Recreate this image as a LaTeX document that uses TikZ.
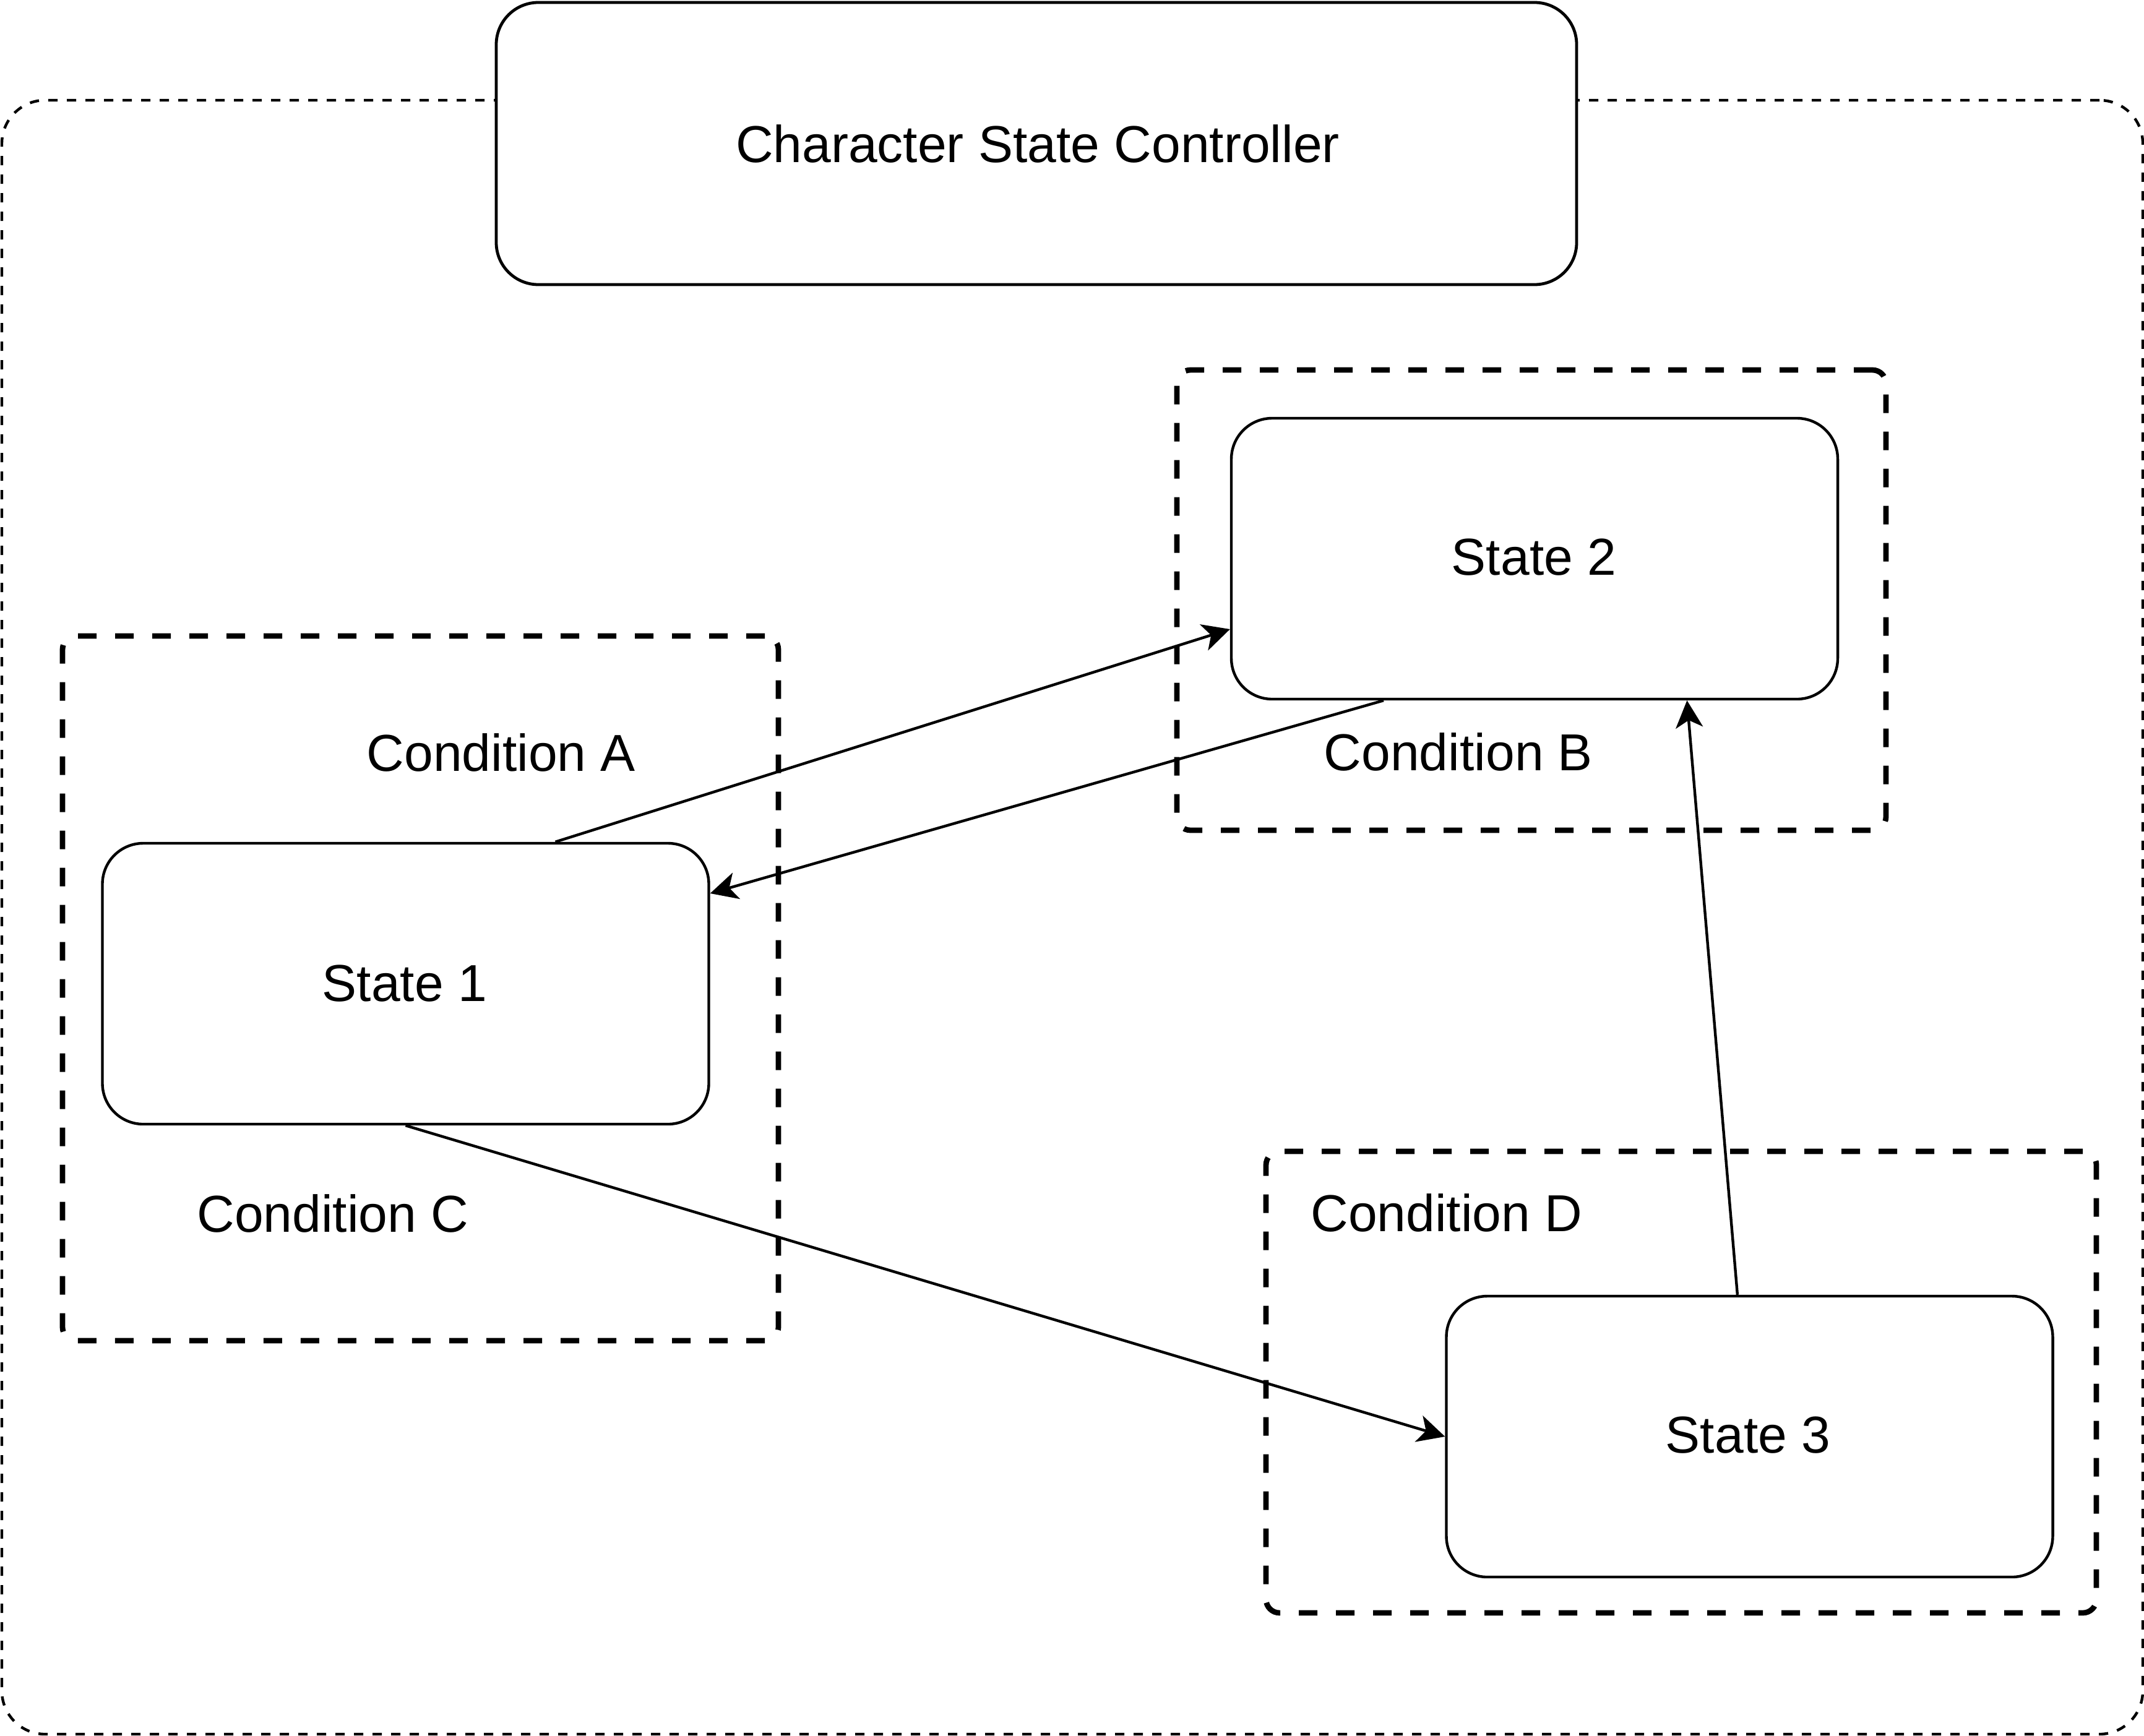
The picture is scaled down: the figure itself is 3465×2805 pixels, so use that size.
\documentclass[tikz,border=0pt]{standalone}
\usepackage{fontspec}
\setmainfont{Liberation Sans}
\usetikzlibrary{arrows.meta}
\begin{document}
\begin{tikzpicture}[x=0.25pt,y=-0.25pt,
  every node/.style={font=\fontsize{21}{25}\selectfont},
  outerbox/.style={draw, line width=1.1pt, dash pattern=on 3.75pt off 3.75pt, rounded corners=17.5pt, inner sep=0pt},
  ctrlbox/.style={draw, line width=1.2pt, rounded corners=17pt, fill=white, minimum width=436.5pt, minimum height=114pt, inner sep=0pt},
  condbox/.style={draw, line width=2.2pt, dash pattern=on 7.5pt off 7.5pt, rounded corners=5.5pt, inner sep=0pt},
  statebox/.style={draw, line width=1.1pt, rounded corners=16.5pt, fill=white, minimum width=245pt, minimum height=113.5pt, inner sep=0pt},
  condtext/.style={inner sep=0pt},
  flow/.style={line width=1.1pt, -{Stealth[length=11pt,width=11pt,inset=3pt]}}
]
\useasboundingbox (0,0) rectangle (3465,2805);
% outer container
\node[outerbox, minimum width=865pt, minimum height=660.25pt] (outer) at (1733,1482.5) {};
% controller
\node[ctrlbox] (ctrl) at (1675,232) {};
\node[condtext] (ctrltext) at (1677,232) {Character State Controller};
% condition boxes
\node[condbox, minimum width=289.25pt, minimum height=284.75pt] (cac) at (679.5,1597.5) {};
\node[condbox, minimum width=286.5pt, minimum height=186pt] (cb) at (2475,970) {};
\node[condbox, minimum width=335.5pt, minimum height=186.5pt] (cd) at (2717,2234) {};
% states
\node[statebox] (s1) at (655.5,1590) {};
\node[statebox] (s2) at (2480,903) {};
\node[statebox] (s3) at (2827.5,2322) {};
\node[condtext] (s1t) at (654,1590) {State 1};
\node[condtext] (s2t) at (2479,901) {State 2};
\node[condtext] (s3t) at (2825,2320) {State 3};
% condition labels
\node[condtext] (la) at (810,1216) {Condition A};
\node[condtext] (lb) at (2357,1215) {Condition B};
\node[condtext] (lc) at (538,1961) {Condition C};
\node[condtext] (ld) at (2338,1960) {Condition D};
% transitions
\draw[flow] ([xshift=60.5pt]s1.north) -- ([yshift=-28.5pt]s2.west);
\draw[flow] ([xshift=-61pt]s2.south) -- ([yshift=36.5pt]s1.east);
\draw[flow] (s1.south) -- (s3.west);
\draw[flow] ([xshift=-4.9pt]s3.north) -- ([xshift=61.6pt]s2.south);
\end{tikzpicture}
\end{document}
